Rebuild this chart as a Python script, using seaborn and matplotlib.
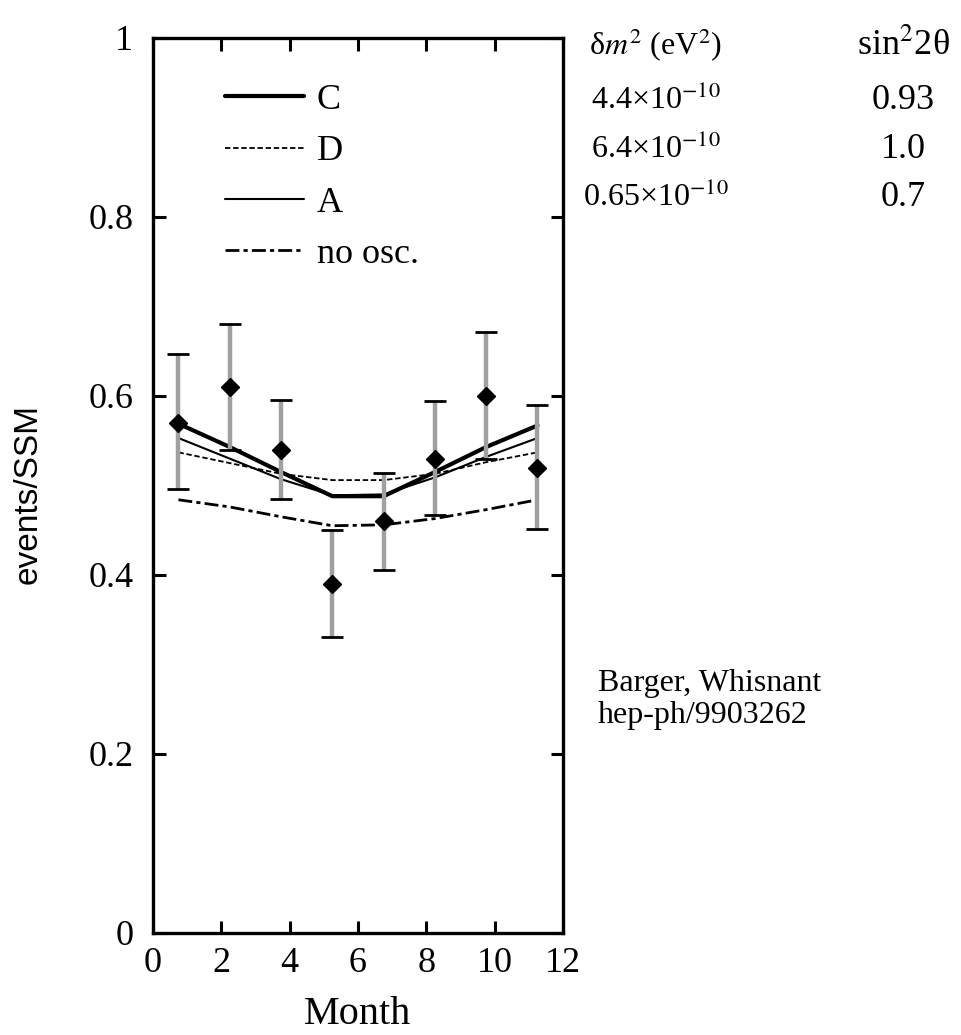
import numpy as np
import pandas as pd
import seaborn as sns
import matplotlib.pyplot as plt

sns.set_theme(style="ticks")
plt.rcParams['font.family'] = ['Liberation Serif', 'DejaVu Serif']
plt.rcParams['mathtext.fontset'] = 'stix'
plt.rcParams['text.color'] = 'black'
plt.rcParams['axes.labelcolor'] = 'black'

# data
months = [0.75, 2.25, 3.75, 5.25, 6.75, 8.25, 9.75, 11.25]
data_y = [0.57, 0.61, 0.54, 0.39, 0.46, 0.53, 0.60, 0.52]
err_up = [0.077, 0.07, 0.056, 0.06, 0.054, 0.064, 0.071, 0.07]
err_dn = [0.074, 0.07, 0.055, 0.059, 0.054, 0.063, 0.07, 0.069]

curve_C = [0.569, 0.543, 0.515, 0.488, 0.488, 0.515, 0.543, 0.567]
curve_D = [0.537, 0.525, 0.513, 0.506, 0.506, 0.513, 0.526, 0.537]
curve_A = [0.553, 0.530, 0.507, 0.489, 0.490, 0.509, 0.532, 0.553]
curve_no = [0.484, 0.476, 0.465, 0.455, 0.456, 0.463, 0.473, 0.484]

fig = plt.figure(figsize=(9.61, 10.35), dpi=100)
ax = fig.add_axes([0.159, 0.0986, 0.427, 0.8647])

sns.lineplot(x=months, y=curve_C, ax=ax, color='black', lw=3.0, label='C')
sns.lineplot(x=months, y=curve_D, ax=ax, color='black', lw=1.3, label='D')
sns.lineplot(x=months, y=curve_A, ax=ax, color='black', lw=1.5, label='A')
sns.lineplot(x=months, y=curve_no, ax=ax, color='black', lw=2.0, label='no osc.')
ax.lines[1].set_dashes([3, 1.5])
ax.lines[3].set_dashes([5, 1.5, 1.5, 1.5])

eb = ax.errorbar(months, data_y, yerr=[err_dn, err_up], fmt='D', color='black',
                 ms=9, ecolor='#a0a0a0', elinewidth=3.2, capsize=8, capthick=2.0)
for cap in eb[1]:
    cap.set_markeredgecolor('black')
    cap.set_color('black')

ax.set_xlim(0, 12)
ax.set_ylim(0, 1)
ax.set_xticks([0, 2, 4, 6, 8, 10, 12])
ax.set_yticks([0, 0.2, 0.4, 0.6, 0.8, 1])
ax.set_yticklabels(['0', '0.2', '0.4', '0.6', '0.8', '1'])
ax.tick_params(direction='in', top=True, right=True, length=9, width=2.2,
               labelsize=26, colors='black')
ax.tick_params(axis='y', pad=14)
ax.tick_params(axis='x', pad=10)
for s in ax.spines.values():
    s.set_linewidth(2.4)
    s.set_color('black')
ax.set_xlabel('Month', fontsize=29)
ax.xaxis.set_label_coords(0.5, -0.07)
ax.set_ylabel('events/SSM', fontsize=24, family=['Liberation Sans'])
ax.yaxis.set_label_coords(-0.265, 0.49)

leg = ax.legend(loc='upper left', bbox_to_anchor=(0.14, 0.965), frameon=False,
                fontsize=26, handlelength=2.2, handletextpad=0.35,
                labelspacing=0.5, borderaxespad=0)

# parameter table on the right
col1 = 0.682
col2 = 0.94
fig.text(col1, 0.956, r'δ$m^2$ (eV$^2$)', fontsize=23, ha='center', va='center')
fig.text(col2, 0.956, r'sin$^2$2θ', fontsize=26, ha='center', va='center')
dm2 = [r'4.4×10$^{-10}$', r'6.4×10$^{-10}$', r'0.65×10$^{-10}$']
s2t = ['0.93', '1.0', '0.7']
for i in range(3):
    yy = 0.903 - i * 0.047
    fig.text(col1, yy, dm2[i], fontsize=23, ha='center', va='center')
    fig.text(col2, yy, s2t[i], fontsize=26, ha='center', va='center')

fig.text(0.622, 0.324, 'Barger, Whisnant\nhep-ph/9903262', fontsize=23,
         ha='left', va='center', linespacing=1.12)

fig.savefig('out.png', dpi=100)
